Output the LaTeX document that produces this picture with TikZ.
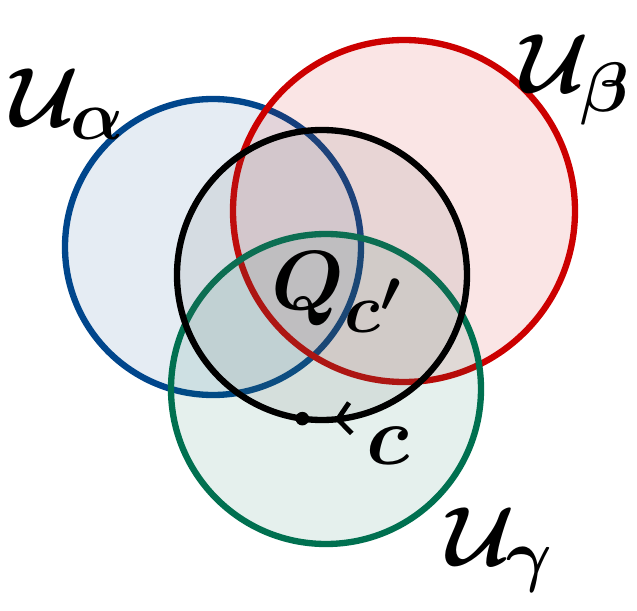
\documentclass[tikz,border=0pt]{standalone}
\usepackage{tikz}
\usetikzlibrary{arrows.meta, positioning}

\definecolor{setblue}{RGB}{0,70,140}
\definecolor{setred}{RGB}{204,0,0}
\definecolor{setgreen}{RGB}{0,112,80}

\begin{document}
\begin{tikzpicture}[
    region/.style={draw=#1, circle, line width=4.5pt, fill=#1, fill opacity=0.1, draw opacity=1, inner sep=0pt},
    curveset/.style={draw=black, circle, line width=4.5pt, fill=black!60, fill opacity=0.12, draw opacity=1, inner sep=0pt},
    setlabel/.style={font=\Huge\boldmath, scale=2.4, transform shape, inner sep=1pt},
    >=Stealth
]
\useasboundingbox (0,0) rectangle (15.925,-15.275);

% Open sets
\node[region=setblue, minimum size=7.4cm] (ua) at (5.325,-6.175) {};
\node[region=setred, minimum size=8.55cm] (ub) at (10.1,-5.275) {};
\node[region=setgreen, minimum size=7.75cm] (ug) at (8.15,-9.725) {};

% Closed curve c and its region
\node[curveset, minimum size=7.25cm] (qc) at (8.05,-6.875) {};

% Labels
\node[setlabel] (la) at (1.7,-2.6) {$\mathcal{U}_\alpha$};
\node[setlabel] (lb) at (14.4,-2.0) {$\mathcal{U}_\beta$};
\node[setlabel] (lg) at (12.5,-13.75) {$\mathcal{U}_\gamma$};
\node[setlabel] (lq) at (8.45,-7.3) {$Q_{c'}$};
\node[setlabel] (lc) at (9.7,-11.15) {$c$};

% Base point and orientation
\node[circle, fill=black, inner sep=0pt, minimum size=0.34cm] (cpt) at ([shift={(262.2:3.625)}]qc.center) {};
\draw[line width=3.5pt, -{Straight Barb[length=9pt, width=22pt]}]
    ([shift={(285:3.625)}]qc.center) arc[start angle=285, end angle=275, radius=3.625];

\end{tikzpicture}
\end{document}
